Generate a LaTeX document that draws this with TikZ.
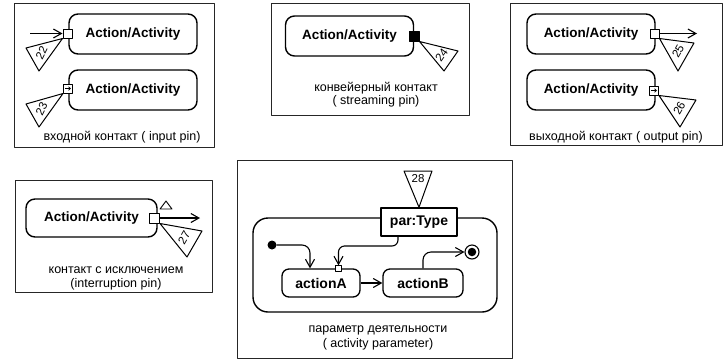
\documentclass[tikz,border=0pt]{standalone}
\usepackage{fontspec}
\setmainfont{Liberation Sans}
\usetikzlibrary{arrows.meta,calc}
\newcommand{\mycallout}[5]{%
  \draw[callout] #1 -- #2 -- #3 -- cycle;
  \node[numlabel,rotate=#5] at ($#2!0.5!#3!0.3!#1$) {#4};}
\begin{document}
\begin{tikzpicture}[x=1pt,y=-1pt,line join=round,
  frame/.style={draw=black!85,line width=1pt},
  act/.style={draw,line width=1.4pt,rounded corners=9pt,minimum width=128pt,minimum height=40pt,inner sep=0pt,font=\bfseries\fontsize{13.5}{15}\selectfont},
  small/.style={draw,line width=1.3pt,rounded corners=7pt,minimum height=28pt,inner sep=0pt,font=\bfseries\fontsize{14}{16}\selectfont},
  pinbox/.style={draw,fill=white,line width=1pt,minimum size=9pt,inner sep=0pt},
  callout/.style={draw,line width=1pt},
  numlabel/.style={inner sep=0pt,font=\fontsize{11.5}{12}\selectfont},
  caption/.style={inner sep=0pt,align=center,font=\fontsize{12.5}{14}\selectfont},
  arr/.style={-{Straight Barb[length=8pt,width=9pt]},line width=1.1pt},
  tinyarr/.style={-{Straight Barb[length=2pt,width=3.5pt]},line width=0.7pt}]
\useasboundingbox (0,0) rectangle (725,360);

% ---------- panel 1: input pin
\draw[frame] (14,3) rectangle (214,147);
\node[act] (a1) at (133,34) {Action/Activity};
\node[pinbox] (p1) at (67.5,33.5) {};
\coordinate (s1) at (30,33.5);
\draw[arr] (s1) -- (p1.west);
\mycallout{(p1.south west)}{(26,48)}{(39,71)}{22}{64}
\node[act] (a2) at (133,90) {Action/Activity};
\node[pinbox] (p2) at (68,88.5) {};
\draw[tinyarr] ([xshift=-3pt]p2.center) -- ([xshift=3pt]p2.center);
\mycallout{(p2.south west)}{(26,104)}{(39,127)}{23}{64}
\node[caption] (t1) at (122,137) {входной контакт ( input pin)};

% ---------- panel 2: streaming pin
\draw[frame] (271,3) rectangle (469,115);
\node[act] (a3) at (349.5,36) {Action/Activity};
\node[pinbox,fill=black,minimum size=10pt] (p3) at (414,36) {};
\mycallout{(p3.south east)}{(458,51)}{(444,71)}{24}{55}
\node[caption] (t2a) at (376,88) {конвейерный контакт};
\node[caption] (t2b) at (376,101) {( streaming pin)};

% ---------- panel 3: output pin
\draw[frame] (510,3) rectangle (722,145);
\node[act] (a4) at (591,34) {Action/Activity};
\node[pinbox] (p4) at (654.5,33.5) {};
\coordinate (e4) at (697,33.5);
\draw[arr] (p4.east) -- (e4);
\mycallout{(p4.south east)}{(694,43)}{(678,71)}{25}{60}
\node[act] (a5) at (591,90) {Action/Activity};
\node[pinbox] (p5) at (654,90.5) {};
\draw[tinyarr] ([xshift=-3pt]p5.center) -- ([xshift=3pt]p5.center);
\mycallout{(p5.south east)}{(696,100)}{(680,127)}{26}{60}
\node[caption] (t3) at (616,137) {выходной контакт ( output pin)};

% ---------- panel 4: interruption pin
\draw[frame] (15,180) rectangle (212,292);
\node[act,minimum width=131pt,minimum height=38pt] (a6) at (91.5,218) {Action/Activity};
\node[pinbox,minimum size=10pt] (p6) at (154.5,218) {};
\coordinate (e6) at (200,218);
\draw[arr] (p6.east) -- (e6);
\draw[line width=0.9pt] (166,201) -- (172,209) -- (160,209) -- cycle;
\mycallout{(p6.south east)}{(202,231)}{(187,257)}{27}{60}
\node[caption] (t4a) at (116,270) {контакт с исключением};
\node[caption] (t4b) at (116,284) {(interruption pin)};

% ---------- panel 5: activity parameter
\draw[frame] (237,160) rectangle (512,358);
\draw[line width=1.4pt,rounded corners=15pt] (253,218) rectangle (497,312);
\node[draw,fill=white,line width=1.5pt,minimum width=76pt,minimum height=28pt,inner sep=0pt,font=\bfseries\fontsize{14}{16}\selectfont] (pT) at (419,222) {par:Type};
\draw[callout] (404,171) -- (432,171) -- (pT.north) -- cycle;
\node[numlabel] (n28) at (418,179) {28};
\node[circle,fill=black,minimum size=9pt,inner sep=0pt] (init) at (272,245) {};
\node[small,minimum width=78pt] (aA) at (321,283) {actionA};
\node[small,minimum width=80pt] (aB) at (423,283) {actionB};
\node[pinbox,minimum size=5.5pt,line width=0.8pt] (pA) at (338.5,268.5) {};
\node[circle,draw,line width=1.1pt,minimum size=14pt,inner sep=0pt] (fin) at (472,252) {};
\node[circle,fill=black,minimum size=8.5pt,inner sep=0pt] at (fin) {};
\coordinate (c1) at (310,245);
\draw[arr,rounded corners=8pt] (init) -| (c1 |- aA.north);
\draw[arr,rounded corners=6pt] ([xshift=-21pt]pT.south) |- (pA.north |- 0,246) -- (pA.north);
\draw[arr] (aA.east) -- (aB.west);
\draw[arr,rounded corners=8pt] (aB.north) |- (fin.west);
\node[caption] (t5a) at (378,330) {параметр деятельности};
\node[caption] (t5b) at (378,344) {( activity parameter)};
\end{tikzpicture}
\end{document}
